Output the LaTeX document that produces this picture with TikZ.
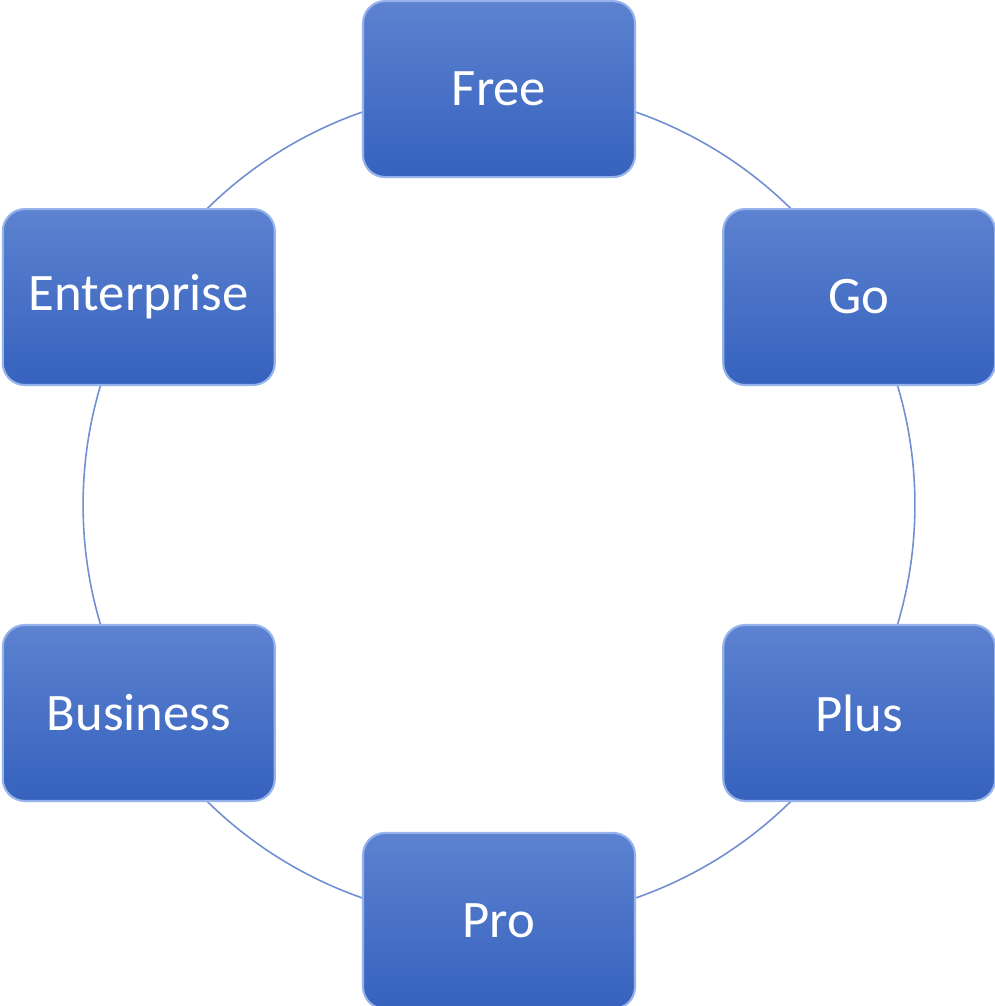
\documentclass[tikz,border=0pt]{standalone}
\usepackage{fontspec}
\setmainfont{Carlito}
\definecolor{boxtop}{RGB}{92,130,208}
\definecolor{boxbot}{RGB}{54,98,190}
\definecolor{boxrim}{RGB}{150,180,235}
\definecolor{ring}{RGB}{112,143,210}
\begin{document}
\begin{tikzpicture}[x=0.02cm,y=-0.02cm,
	plan/.style={rounded corners=0.44cm, top color=boxtop, bottom color=boxbot,
		draw=boxrim, line width=1.2pt, minimum width=5.44cm, minimum height=3.52cm,
		text=white, font=\fontsize{30}{34}\selectfont, inner sep=0pt},
	ringline/.style={draw=ring, line width=0.9pt}]
	\useasboundingbox (0,0) rectangle (994,1006);
	\coordinate (c) at (499,505);
	\draw[ringline] (c) circle (8.32cm);
	% boxes around the ring
	\foreach \a/\n/\t in {90/free/Free,30/go/Go,-30/plus/Plus,-90/pro/Pro,-150/business/Business,150/enterprise/Enterprise}
		\node[plan] (\n) at ([shift={(\a:8.32cm)}]c) {\t};
\end{tikzpicture}
\end{document}
